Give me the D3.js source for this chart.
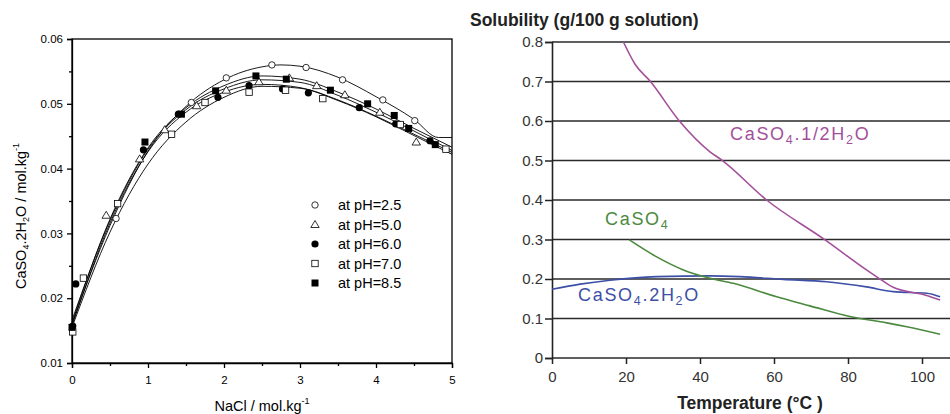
<!DOCTYPE html>
<html>
<head>
<meta charset="utf-8">
<script src="https://cdn.jsdelivr.net/npm/d3@7"></script>
<style>
  body { margin: 0; background: #fff; }
  text { font-family: "Liberation Sans", Arial, sans-serif; }
</style>
</head>
<body>
<div id="chart"></div>
<script>
// ---- left panel: CaSO4.2H2O solubility vs NaCl (points + fitted curves) ----
var phLabels = ["at pH=2.5", "at pH=5.0", "at pH=6.0", "at pH=7.0", "at pH=8.5"];
var phSymbols = ["circleOpen", "triangleOpen", "circleFilled", "squareOpen", "squareFilled"];

var pts25 = [[0.58,0.0323],[1.57,0.0502],[2.03,0.0540],[2.63,0.0560],[3.08,0.0556],[3.56,0.0537],[4.09,0.0506],[4.51,0.0474]];
var pts50 = [[0.45,0.0328],[0.89,0.0415],[1.22,0.0460],[1.64,0.0497],[2.03,0.0521],[2.46,0.0534],[2.86,0.0540],[3.22,0.0528],[3.59,0.0514],[4.05,0.0487],[4.53,0.0441]];
var pts60 = [[0.01,0.0157],[0.05,0.0222],[0.94,0.0429],[1.40,0.0484],[1.92,0.0510],[2.33,0.0528],[2.77,0.0523],[3.11,0.0517],[3.78,0.0494],[4.26,0.0469],[4.71,0.0443]];
var pts70 = [[0.01,0.0148],[0.15,0.0231],[0.60,0.0346],[1.31,0.0453],[1.75,0.0502],[2.33,0.0518],[2.81,0.0521],[3.30,0.0508],[4.32,0.0468],[4.92,0.0430]];
var pts85 = [[0.00,0.0155],[0.96,0.0441],[1.44,0.0484],[1.89,0.0520],[2.42,0.0543],[2.82,0.0538],[3.40,0.0521],[3.89,0.0500],[4.24,0.0482],[4.43,0.0462],[4.78,0.0437]];

// fitted curves
var fit25 = [[0,0.0160],[0.5,0.0312],[1,0.0427],[1.5,0.0496],[2,0.0537],[2.5,0.0557],[2.75,0.0560],[3,0.0558],[3.5,0.0541],[4,0.0511],[4.5,0.0476],[4.82,0.0448],[5,0.0448]];
var fit50 = [[0,0.0166],[0.5,0.0320],[1,0.0430],[1.5,0.0491],[2,0.0523],[2.5,0.0537],[3,0.0533],[3.5,0.0513],[4,0.0487],[4.5,0.0458],[5,0.0428]];
var fit60 = [[0,0.0158],[0.5,0.0316],[1,0.0426],[1.5,0.0487],[2,0.0518],[2.5,0.0530],[3,0.0525],[3.5,0.0506],[4,0.0481],[4.5,0.0453],[5,0.0425]];
var fit70 = [[0,0.0155],[0.5,0.0302],[1,0.0407],[1.5,0.0472],[2,0.0510],[2.5,0.0527],[3,0.0524],[3.5,0.0505],[4,0.0480],[4.5,0.0451],[5,0.0422]];
var fit85 = [[0,0.0162],[0.5,0.0322],[1,0.0432],[1.5,0.0494],[2,0.0528],[2.5,0.0543],[3,0.0538],[3.5,0.0518],[4,0.0492],[4.5,0.0462],[5,0.0433]];

var leftXTicks = [0, 1, 2, 3, 4, 5];
var leftYTicks = [0.01, 0.02, 0.03, 0.04, 0.05, 0.06];

// ---- right panel: solubility vs temperature ----
var hemiT   = [19.3, 22.5, 26.5, 34.6, 42.7, 45.9, 58, 73.8, 85, 89.1, 92.2, 101, 104.9];
var hemiVal = [0.800, 0.743, 0.701, 0.598, 0.522, 0.501, 0.400, 0.299, 0.223, 0.197, 0.179, 0.159, 0.147];
var anhT    = [20.9, 28.3, 35.5, 42.7, 49, 60.7, 69.7, 80.5, 90.5, 95.9, 104.9];
var anhVal  = [0.299, 0.256, 0.223, 0.202, 0.189, 0.155, 0.132, 0.105, 0.089, 0.079, 0.060];
var gypT    = [0, 7.6, 15.7, 28.3, 42.7, 50.8, 62.5, 74.2, 85, 92.2, 101.3, 104.9];
var gypVal  = [0.174, 0.187, 0.197, 0.206, 0.208, 0.206, 0.199, 0.193, 0.180, 0.168, 0.164, 0.155];

var rightXTicks = [0, 20, 40, 60, 80, 100];
var rightYTicks = [0, 0.1, 0.2, 0.3, 0.4, 0.5, 0.6, 0.7, 0.8];

var svg = d3.select("#chart").append("svg")
  .attr("width", 950).attr("height", 414);

// ================= left =================
var lx = d3.scaleLinear().domain([0, 5]).range([72, 452]);
var ly = d3.scaleLinear().domain([0.01, 0.06]).range([363, 39]);
var left = svg.append("g");

// frame
left.append("rect")
  .attr("x", lx(0)).attr("y", ly(0.06))
  .attr("width", lx(5) - lx(0)).attr("height", ly(0.01) - ly(0.06))
  .attr("fill", "none").attr("stroke", "#000").attr("stroke-width", 1.3);

var lxAxis = d3.axisBottom(lx).tickValues(leftXTicks).tickSize(5).tickFormat(d3.format("d"));
var lyAxis = d3.axisLeft(ly).tickValues(leftYTicks).tickSize(5).tickFormat(d3.format(".2f"));

left.append("g").attr("transform", "translate(0," + ly(0.01) + ")")
  .call(lxAxis)
  .call(function(g) {
    g.select(".domain").attr("stroke-width", 1.3);
    g.selectAll("line").attr("stroke-width", 1.3);
    g.selectAll("text").attr("font-size", 11.5).attr("fill", "#000").attr("dy", "1.1em")
      .style("font-family", "Liberation Sans, Arial, sans-serif");
  });
left.append("g").attr("transform", "translate(" + lx(0) + ",0)")
  .call(lyAxis)
  .call(function(g) {
    g.select(".domain").attr("stroke-width", 1.3);
    g.selectAll("line").attr("stroke-width", 1.3);
    g.selectAll("text").attr("font-size", 11.5).attr("fill", "#000").attr("x", -9)
      .style("font-family", "Liberation Sans, Arial, sans-serif");
  });

// minor ticks
left.append("g").attr("transform", "translate(0," + ly(0.01) + ")")
  .call(d3.axisBottom(lx).tickValues([0.5, 1.5, 2.5, 3.5, 4.5]).tickSize(3).tickFormat(""))
  .call(function(g) { g.select(".domain").remove(); g.selectAll("line").attr("stroke-width", 1.3); });
left.append("g").attr("transform", "translate(" + lx(0) + ",0)")
  .call(d3.axisLeft(ly).tickValues([0.015, 0.025, 0.035, 0.045, 0.055]).tickSize(3).tickFormat(""))
  .call(function(g) { g.select(".domain").remove(); g.selectAll("line").attr("stroke-width", 1.3); });

// fitted curves
var fitLine = d3.line()
  .x(function(d) { return lx(d[0]); })
  .y(function(d) { return ly(d[1]); })
  .curve(d3.curveMonotoneX);

[fit25, fit50, fit60, fit70, fit85].forEach(function(f) {
  left.append("path").attr("d", fitLine(f))
    .attr("fill", "none").attr("stroke", "#000").attr("stroke-width", 0.9);
});

function drawSymbol(g, kind, cx, cy) {
  if (kind == "circleOpen") {
    g.append("circle").attr("cx", cx).attr("cy", cy).attr("r", 3.2)
      .attr("fill", "#fff").attr("stroke", "#000").attr("stroke-width", 0.8);
  } else if (kind == "circleFilled") {
    g.append("circle").attr("cx", cx).attr("cy", cy).attr("r", 3.6).attr("fill", "#000");
  } else if (kind == "squareOpen") {
    g.append("rect").attr("x", cx - 3.2).attr("y", cy - 3.2).attr("width", 6.4).attr("height", 6.4)
      .attr("fill", "#fff").attr("stroke", "#000").attr("stroke-width", 0.8);
  } else if (kind == "squareFilled") {
    g.append("rect").attr("x", cx - 3.5).attr("y", cy - 3.5).attr("width", 7).attr("height", 7)
      .attr("fill", "#000");
  } else {
    g.append("path")
      .attr("d", "M" + cx + "," + (cy - 4) + "L" + (cx + 4.2) + "," + (cy + 3) + "L" + (cx - 4.2) + "," + (cy + 3) + "Z")
      .attr("fill", "#fff").attr("stroke", "#000").attr("stroke-width", 0.8);
  }
}

var allPts = [pts25, pts50, pts60, pts70, pts85];
allPts.forEach(function(pts, i) {
  pts.forEach(function(p) { drawSymbol(left, phSymbols[i], lx(p[0]), ly(p[1])); });
});

// legend
phLabels.forEach(function(lab, i) {
  var yy = 205 + i * 19.5;
  drawSymbol(left, phSymbols[i], 315, yy);
  left.append("text").attr("x", 338).attr("y", yy + 5)
    .attr("font-size", 14.5).text(lab);
});

// axis titles
var ytitle = left.append("text")
  .attr("transform", "translate(26," + 216 + ") rotate(-90)")
  .attr("text-anchor", "middle").attr("font-size", 14.5);
ytitle.append("tspan").text("CaSO");
ytitle.append("tspan").attr("font-size", 9).attr("dy", 3).text("4");
ytitle.append("tspan").attr("dy", -3).text(".2H");
ytitle.append("tspan").attr("font-size", 9).attr("dy", 3).text("2");
ytitle.append("tspan").attr("dy", -3).text("O / mol.kg");
ytitle.append("tspan").attr("font-size", 9).attr("dy", -7).text("-1");

var xtitle = left.append("text")
  .attr("x", 262).attr("y", 411)
  .attr("text-anchor", "middle").attr("font-size", 14.5);
xtitle.append("tspan").text("NaCl / mol.kg");
xtitle.append("tspan").attr("font-size", 9).attr("dy", -7).text("-1");

// ================= right =================
var rx = d3.scaleLinear().domain([0, 100]).range([552, 922]);
var ry = d3.scaleLinear().domain([0, 0.8]).range([358, 42]);
var right = svg.append("g");

// gridlines
right.selectAll(".grid").data(rightYTicks).enter().append("line")
  .attr("class", "grid")
  .attr("x1", rx(0)).attr("x2", 950)
  .attr("y1", function(d) { return ry(d); }).attr("y2", function(d) { return ry(d); })
  .attr("stroke", "#2a2a2a").attr("stroke-width", 1.5);

var ryAxis = d3.axisLeft(ry).tickValues(rightYTicks).tickSize(7)
  .tickFormat(function(d) { return d == 0 ? "0" : d3.format(".1f")(d); });
right.append("g").attr("transform", "translate(" + rx(0) + ",0)")
  .call(ryAxis)
  .call(function(g) {
    g.select(".domain").attr("stroke-width", 1.6).attr("stroke", "#222");
    g.selectAll("line").attr("stroke-width", 1.5).attr("stroke", "#222");
    g.selectAll("text").attr("font-size", 15).attr("fill", "#333").attr("x", -9)
      .style("font-family", "Liberation Sans, Arial, sans-serif");
  });

var rxAxis = d3.axisBottom(rx).tickValues(rightXTicks).tickSize(6).tickFormat(d3.format("d"));
right.append("g").attr("transform", "translate(0," + ry(0) + ")")
  .call(rxAxis)
  .call(function(g) {
    g.select(".domain").remove();
    g.selectAll("line").attr("stroke-width", 1.5).attr("stroke", "#222");
    g.selectAll("text").attr("font-size", 15).attr("fill", "#333").attr("dy", "1em")
      .style("font-family", "Liberation Sans, Arial, sans-serif");
  });

var solLine = d3.line()
  .x(function(d) { return rx(d[0]); })
  .y(function(d) { return ry(d[1]); })
  .curve(d3.curveMonotoneX);

var series = [
  { t: gypT, v: gypVal, color: "#3d4fa6" },
  { t: anhT, v: anhVal, color: "#4b8a3e" },
  { t: hemiT, v: hemiVal, color: "#a3509b" }
];
series.forEach(function(s) {
  var data = s.t.map(function(t, i) { return [t, s.v[i]]; });
  right.append("path").attr("d", solLine(data))
    .attr("fill", "none").attr("stroke", s.color).attr("stroke-width", 1.6);
});

// curve labels
function chemLabel(x, y, color, parts) {
  var t = right.append("text").attr("x", x).attr("y", y)
    .attr("font-size", 18).attr("fill", color).attr("letter-spacing", 1.7);
  parts.forEach(function(p) {
    if (p[1]) t.append("tspan").attr("font-size", 12.5).attr("dy", 4).text(p[0]);
    else t.append("tspan").attr("dy", t.selectAll("tspan").size() ? -4 : 0).text(p[0]);
  });
}
chemLabel(730, 144, "#a3509b", [["CaSO"], ["4", 1], [".1/2H"], ["2", 1], ["O"]]);
chemLabel(605, 229, "#4b8a3e", [["CaSO"], ["4", 1]]);
chemLabel(578, 305, "#3d4fa6", [["CaSO"], ["4", 1], [".2H"], ["2", 1], ["O"]]);

// titles
right.append("text").attr("x", 470).attr("y", 26)
  .attr("font-size", 17.5).attr("font-weight", "bold").attr("fill", "#222")
  .text("Solubility (g/100 g solution)");
right.append("text").attr("x", 750).attr("y", 409)
  .attr("text-anchor", "middle")
  .attr("font-size", 17.5).attr("font-weight", "bold").attr("fill", "#222")
  .text("Temperature (°C )");
</script>
</body>
</html>
